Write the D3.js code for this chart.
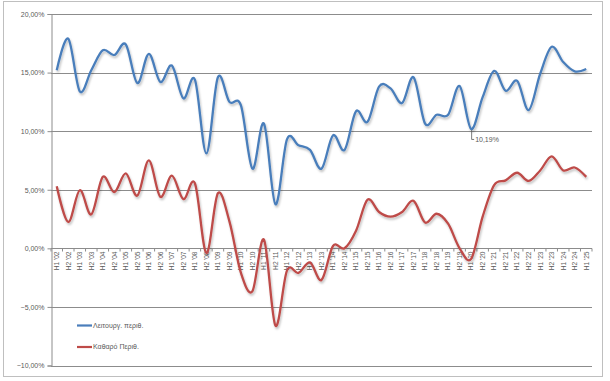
<!DOCTYPE html>
<html><head><meta charset="utf-8">
<script src="https://cdn.jsdelivr.net/npm/d3@7"></script>
<style>
html,body{margin:0;padding:0;background:#fff;}
svg{display:block;font-family:"Liberation Sans",Arial,sans-serif;}
</style></head>
<body><svg id="chart" width="610" height="381"></svg>
<script>
const categories = ["H1 '02","H2 '02","H1 '03","H2 '03","H1 '04","H2 '04","H1 '05","H2 '05","H1 '06","H2 '06",
"H1 '07","H2 '07","H1 '08","H2 '08","H1 '09","H2 '09","H1 '10","H2 '10","H1 '11","H2 '11",
"H1 '12","H2 '12","H1 '13","H2 '13","H1 '14","H2 '14","H1 '15","H2 '15","H1 '16","H2 '16",
"H1 '17","H2 '17","H1 '18","H2 '18","H1 '19","H2 '19","H1 '20","H2 '20","H1 '21","H2 '21",
"H1 '22","H2 '22","H1 '23","H2 '23","H1 '24","H2 '24","H1 '25"];
const operatingMargin = [15.2,17.9,13.4,15.2,16.9,16.5,17.4,14.1,16.6,14.2,
15.6,12.8,14.4,8.1,14.6,12.5,12.2,6.8,10.65,3.76,
9.3,8.8,8.4,6.8,9.65,8.4,11.7,10.8,13.8,13.65,
12.4,14.6,10.65,11.4,11.4,13.85,10.19,12.9,15.15,13.45,
14.3,11.8,14.9,17.2,15.9,15.1,15.3];
const netMargin = [5.3,2.25,4.96,2.9,6.1,4.8,6.4,4.5,7.5,4.4,
6.2,4.2,5.55,-0.4,4.7,2.3,-2.1,-3.65,0.74,-6.6,
-1.9,-2.1,-1.2,-2.7,0.2,0.0,1.5,4.15,3.1,2.7,
3.1,4.05,2.2,2.95,2.1,0.0,-0.9,2.7,5.4,5.8,
6.45,5.75,6.65,7.85,6.65,6.9,6.1];
const yTicks = [-10,-5,0,5,10,15,20];
const seriesNames = ["Λειτουργ. περιθ.","Καθαρό Περιθ."];
const seriesColors = ["#4A7EBB","#BE4B48"];
const annotation = {index:36, text:"10,19%"};

const textColor = "#5A5A5A";
const svg = d3.select("#chart");
const defs = svg.append("defs");
const f = defs.append("filter").attr("id","sh").attr("x","-10%").attr("y","-10%").attr("width","120%").attr("height","130%");
f.append("feDropShadow").attr("dx",1).attr("dy",2).attr("stdDeviation",1.2).attr("flood-color","#000").attr("flood-opacity",0.25);

// outer border
svg.append("rect").attr("x",3.5).attr("y",1.5).attr("width",599).attr("height",375)
  .attr("fill","#fff").attr("stroke","#BFBFBF").attr("stroke-width",1);

const L=51, R=592, T=14, B=365.5;
const x = d3.scaleBand().domain(categories).range([L,R]);
const cx = d => x(d)+x.bandwidth()/2;
const y = d3.scaleLinear().domain([-10,20]).range([B,T]);

// gridlines
svg.append("g").selectAll("line").data(yTicks).join("line")
  .attr("x1",L).attr("x2",R).attr("y1",d=>Math.round(y(d))+0.5).attr("y2",d=>Math.round(y(d))+0.5)
  .attr("stroke","#8C8C8C").attr("stroke-width",1);

// y axis
const ya = svg.append("g").attr("transform",`translate(${L+0.5},0)`)
  .call(d3.axisLeft(y).tickValues(yTicks).tickSize(4).tickPadding(3)
    .tickFormat(d=>d3.format(".2f")(d).replace(".",",")+"%"));
ya.select(".domain").attr("stroke","#8C8C8C");
ya.selectAll(".tick line").attr("stroke","#8C8C8C");
ya.selectAll(".tick text").attr("font-size",7).attr("fill",textColor).attr("font-family","'Liberation Sans',Arial,sans-serif");

// x axis at zero
const y0 = Math.round(y(0))+0.5;
svg.append("line").attr("x1",L).attr("x2",R).attr("y1",y0).attr("y2",y0).attr("stroke","#8C8C8C");
svg.append("g").selectAll("line").data(categories.concat([null])).join("line")
  .attr("x1",(d,i)=> (i<categories.length? x(d): R)).attr("x2",(d,i)=> (i<categories.length? x(d): R))
  .attr("y1",y0).attr("y2",y0+3).attr("stroke","#8C8C8C");
svg.append("g").selectAll("text").data(categories).join("text")
  .attr("transform",d=>`translate(${cx(d)},${y0+3}) rotate(-90)`)
  .attr("text-anchor","end").attr("dy","0.35em")
  .attr("font-size",6.6).attr("fill",textColor).text(d=>d);

// lines
const line = d3.line().x((d,i)=>cx(categories[i])).y(d=>y(d)).curve(d3.curveCardinal.tension(0));
[operatingMargin, netMargin].forEach((s,k)=>{
  svg.append("path").datum(s).attr("d",line).attr("fill","none")
    .attr("stroke",seriesColors[k]).attr("stroke-width",2.3).attr("stroke-linejoin","round")
    .attr("filter","url(#sh)");
});

// annotation
const ax = cx(categories[annotation.index]), ay = y(operatingMargin[annotation.index]);
svg.append("path").attr("d",`M${ax+0.5},${ay+1}V${ay+10.5}H${ax+3}`).attr("fill","none").attr("stroke",textColor).attr("stroke-width",0.8);
svg.append("text").attr("x",ax+4).attr("y",ay+10.5).attr("dy","0.35em").attr("font-size",7).attr("fill",textColor).text(annotation.text);

// legend
const lg = svg.append("g");
seriesNames.forEach((n,k)=>{
  const ly = 325.5 + k*21.5;
  lg.append("line").attr("x1",77).attr("x2",92).attr("y1",ly).attr("y2",ly).attr("stroke",seriesColors[k]).attr("stroke-width",2.2);
  lg.append("text").attr("x",93).attr("y",ly).attr("dy","0.35em").attr("font-size",7).attr("fill",textColor).text(n);
});
</script></body></html>
